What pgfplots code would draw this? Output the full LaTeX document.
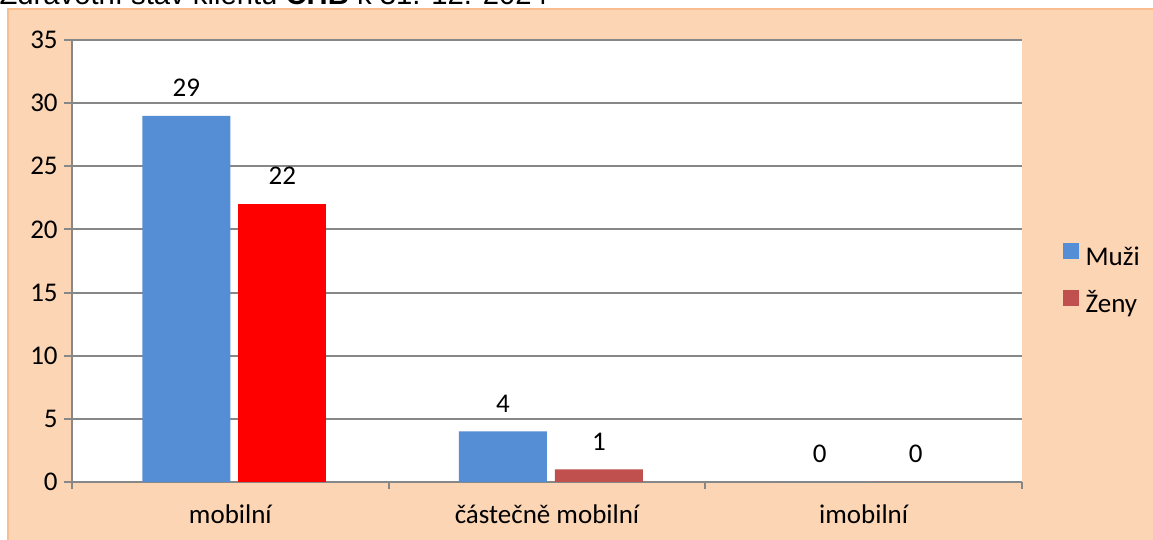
\documentclass[border=0pt]{standalone}
\usepackage{fontspec}
\setmainfont{Carlito}
\newfontfamily\titlefont{Liberation Sans}
\usepackage{pgfplots}
\pgfplotsset{compat=1.18}
\definecolor{peach}{HTML}{FCD5B5}
\definecolor{peachline}{HTML}{F9BE8F}
\definecolor{muzi}{HTML}{558ED5}
\definecolor{zeny}{HTML}{C0504D}
\definecolor{gridgray}{HTML}{878787}
\newcommand{\chartfont}{\fontsize{10.8}{13}\selectfont}

\begin{document}
\begin{tikzpicture}
% 1 px of the reference = 0.4pt
\useasboundingbox (0,0) rectangle (461.2pt,216pt);
\fill[peach] (3.2pt,-5pt) rectangle (470pt,212.4pt);
\draw[peachline, line width=0.8pt] (3.2pt,-5pt) -- (3.2pt,212.4pt) -- (470pt,212.4pt);
\node[anchor=base west, inner sep=0pt, font=\titlefont\fontsize{11.7}{14}\selectfont] at (-0.4pt,214pt)
  {Zdravotní stav klientů \textbf{CHB} k 31. 12. 2024};
\begin{axis}[
  at={(28.8pt,23.2pt)}, anchor=south west,
  scale only axis, width=380pt, height=176.8pt,
  ybar, bar width=0.278,
  ymin=0, ymax=35, ytick={0,5,...,35},
  xmin=0.5, xmax=3.5,
  xtick={1,2,3},
  xticklabels={mobilní, částečně mobilní, imobilní},
  minor xtick={0.5,1.5,2.5,3.5},
  axis x line*=bottom, axis y line*=left,
  axis line style={gridgray, line width=0.8pt, -},
  axis background/.style={fill=white},
  ymajorgrids, grid style={gridgray, line width=0.8pt},
  tick align=outside,
  major tick length=3.2pt, minor tick length=2.8pt,
  tick style={gridgray, line width=0.8pt},
  major x tick style={draw=none},
  tick label style={font=\chartfont},
  /pgf/number format/assume math mode=true,
  xticklabel style={yshift=-2.5pt},
  yticklabel style={xshift=1pt},
  nodes near coords,
  nodes near coords style={font=\chartfont, text=black, yshift=4.2pt},
  legend style={at={(1.043,0.455)}, anchor=west, draw=none, fill=none,
    font=\chartfont, inner sep=0pt, outer sep=0pt,
    nodes={inner sep=0pt, text height=7.5pt, text depth=2.5pt},
    row sep=7.4pt, column sep=2.8pt},
  legend cell align=left,
]
\addplot[fill=muzi, draw=none, bar shift=-0.139,
  legend image code/.code={\fill[muzi] (0pt,0.2pt) rectangle (6.3pt,6.5pt);}]
  coordinates {(1,29) (2,4) (3,0)};
\addlegendentry{Muži}
\addplot[fill=zeny, draw=none, bar shift=0.164,
  legend image code/.code={\fill[zeny] (0pt,0.2pt) rectangle (6.3pt,6.5pt);}]
  coordinates {(2,1) (3,0)};
\addlegendentry{Ženy}
\addplot[fill=red, draw=none, bar shift=0.164, forget plot]
  coordinates {(1,22)};
\end{axis}
\end{tikzpicture}
\end{document}
